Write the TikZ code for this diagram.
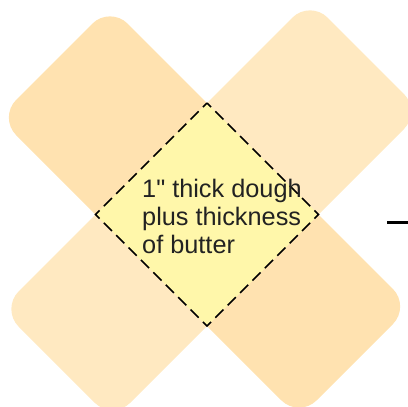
\documentclass[tikz,border=0pt]{standalone}
\usepackage{fontspec}
\setmainfont{Liberation Sans}[Ligatures=TeXOff]
\definecolor{armdark}{HTML}{FFE2B0}
\definecolor{armlight}{HTML}{FFE9C1}
\definecolor{centre}{HTML}{FFF7AA}
\definecolor{ink}{HTML}{222222}
\tikzset{
  armfill/.style={fill=#1, rounded corners=25pt},
  cutline/.style={draw=black, line width=1.6pt, dash pattern=on 11.5pt off 6.02pt, dash phase=5.75pt, line join=miter},
  label/.style={anchor=base west, inner sep=0pt, text=ink, font=\fontsize{25.3}{28}\selectfont}
}
\begin{document}
\begin{tikzpicture}[x=1pt,y=-1pt]
\useasboundingbox (0,0) rectangle (408,407);
% dark band (NW-SE)
\coordinate (dT) at (110,6);
\coordinate (dL) at (-1.5,117.5);
\coordinate (dB) at (299,418);
\coordinate (dR) at (410.5,306.5);
% light band (NE-SW)
\coordinate (lT) at (310,0);
\coordinate (lR) at (421.5,111.5);
\coordinate (lB) at (112.5,420.5);
\coordinate (lL) at (1,309);
% centre diamond
\coordinate (cT) at (207,103);
\coordinate (cL) at (95.5,214.5);
\coordinate (cB) at (207,326);
\coordinate (cR) at (318.5,214.5);
\fill[armfill=armdark] (dT) -- (dL) -- (dB) -- (dR) -- cycle;
\fill[armfill=armlight] (lT) -- (lR) -- (lB) -- (lL) -- cycle;
\fill[centre] (cT) -- (cL) -- (cB) -- (cR) -- cycle;
\draw[cutline] (cT) -- (cL) -- (cB) -- (cR) -- cycle;
\node[label] (t1) at (142,197) {1" thick dough};
\node[label] (t2) at (142,225) {plus thickness};
\node[label] (t3) at (142,253) {of butter};
\coordinate (m1) at (387,222);
\coordinate (m2) at (408,222);
\draw[line width=3pt] (m1) -- (m2);
\end{tikzpicture}
\end{document}
